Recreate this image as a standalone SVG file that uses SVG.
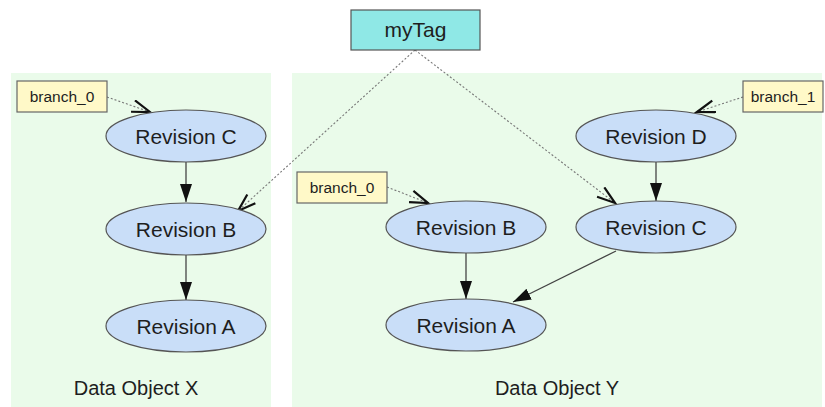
<svg xmlns="http://www.w3.org/2000/svg" width="825" height="407" viewBox="0 0 825 407">
  <defs>
    <style>
      .cluster { fill: #eafbea; stroke: none; }
      .rev { fill: #c9def8; stroke: #555; stroke-width: 1.2; }
      .branch { fill: #fff9c8; stroke: #666; stroke-width: 1.2; }
      .tag { fill: #8fe8e6; stroke: #555; stroke-width: 1.2; }
      .label { font-family: "Liberation Sans", Arial, sans-serif; fill: #1e1e1e; text-anchor: middle; }
      .rt { font-size: 21px; }
      .bt { font-size: 15.5px; }
      .ct { font-size: 20px; }
      .ref { stroke: #777; stroke-width: 1.1; stroke-dasharray: 2 2; fill: none; }
      .dep { stroke: #444; stroke-width: 1.3; fill: none; }
    </style>
    <!-- open arrowhead for tag/branch references -->
    <marker id="vee" markerUnits="userSpaceOnUse" markerWidth="22" markerHeight="16" refX="19" refY="7" orient="auto">
      <path d="M1,1 L19,7 L1,13" fill="none" stroke="#111" stroke-width="2.2"/>
    </marker>
    <!-- filled arrowhead for revision ancestry -->
    <marker id="tri" markerUnits="userSpaceOnUse" markerWidth="20" markerHeight="14" refX="18" refY="7" orient="auto">
      <path d="M0,1 L18,7 L0,13 Z" fill="#111"/>
    </marker>
  </defs>

  <!-- clusters -->
  <g id="clusterX">
    <rect class="cluster" x="11" y="73" width="260" height="334"/>
    <text class="label ct" x="136" y="395">Data Object X</text>
  </g>
  <g id="clusterY">
    <rect class="cluster" x="292" y="73" width="530" height="334"/>
    <text class="label ct" x="557" y="395">Data Object Y</text>
  </g>

  <!-- connectors -->
  <g id="edges">
    <line class="ref" x1="107" y1="97" x2="150" y2="112" marker-end="url(#vee)"/>
    <line class="ref" x1="415" y1="50" x2="238" y2="211" marker-end="url(#vee)"/>
    <line class="ref" x1="415" y1="50" x2="615" y2="203" marker-end="url(#vee)"/>
    <line class="ref" x1="743" y1="97" x2="697" y2="112" marker-end="url(#vee)"/>
    <line class="ref" x1="387" y1="187" x2="428" y2="203" marker-end="url(#vee)"/>
    <line class="dep" x1="186" y1="162" x2="186" y2="202" marker-end="url(#tri)"/>
    <line class="dep" x1="186" y1="255" x2="186" y2="300" marker-end="url(#tri)"/>
    <line class="dep" x1="656" y1="162" x2="656" y2="201" marker-end="url(#tri)"/>
    <line class="dep" x1="466" y1="253" x2="466" y2="299" marker-end="url(#tri)"/>
    <line class="dep" x1="616" y1="251" x2="513" y2="302" marker-end="url(#tri)"/>
  </g>

  <!-- nodes -->
  <g id="myTag">
    <rect class="tag" x="351" y="10" width="129" height="40"/>
    <text class="label rt" x="415.5" y="37">myTag</text>
  </g>
  <g id="x_branch_0">
    <rect class="branch" x="17" y="81" width="90" height="31"/>
    <text class="label bt" x="62" y="102">branch_0</text>
  </g>
  <g id="x_revC">
    <ellipse class="rev" cx="186" cy="136" rx="80" ry="26"/>
    <text class="label rt" x="186" y="143.5">Revision C</text>
  </g>
  <g id="x_revB">
    <ellipse class="rev" cx="186" cy="229" rx="80" ry="26"/>
    <text class="label rt" x="186" y="236.5">Revision B</text>
  </g>
  <g id="x_revA">
    <ellipse class="rev" cx="186" cy="326" rx="80" ry="26"/>
    <text class="label rt" x="186" y="333.5">Revision A</text>
  </g>
  <g id="y_branch_0">
    <rect class="branch" x="297" y="172" width="90" height="31"/>
    <text class="label bt" x="342" y="193">branch_0</text>
  </g>
  <g id="y_branch_1">
    <rect class="branch" x="743" y="81" width="80" height="31"/>
    <text class="label bt" x="783" y="102">branch_1</text>
  </g>
  <g id="y_revD">
    <ellipse class="rev" cx="656" cy="136" rx="80" ry="26"/>
    <text class="label rt" x="656" y="143.5">Revision D</text>
  </g>
  <g id="y_revC">
    <ellipse class="rev" cx="656" cy="227" rx="80" ry="26"/>
    <text class="label rt" x="656" y="234.5">Revision C</text>
  </g>
  <g id="y_revB">
    <ellipse class="rev" cx="466" cy="227" rx="80" ry="26"/>
    <text class="label rt" x="466" y="234.5">Revision B</text>
  </g>
  <g id="y_revA">
    <ellipse class="rev" cx="466" cy="325" rx="80" ry="26"/>
    <text class="label rt" x="466" y="332.5">Revision A</text>
  </g>
</svg>
